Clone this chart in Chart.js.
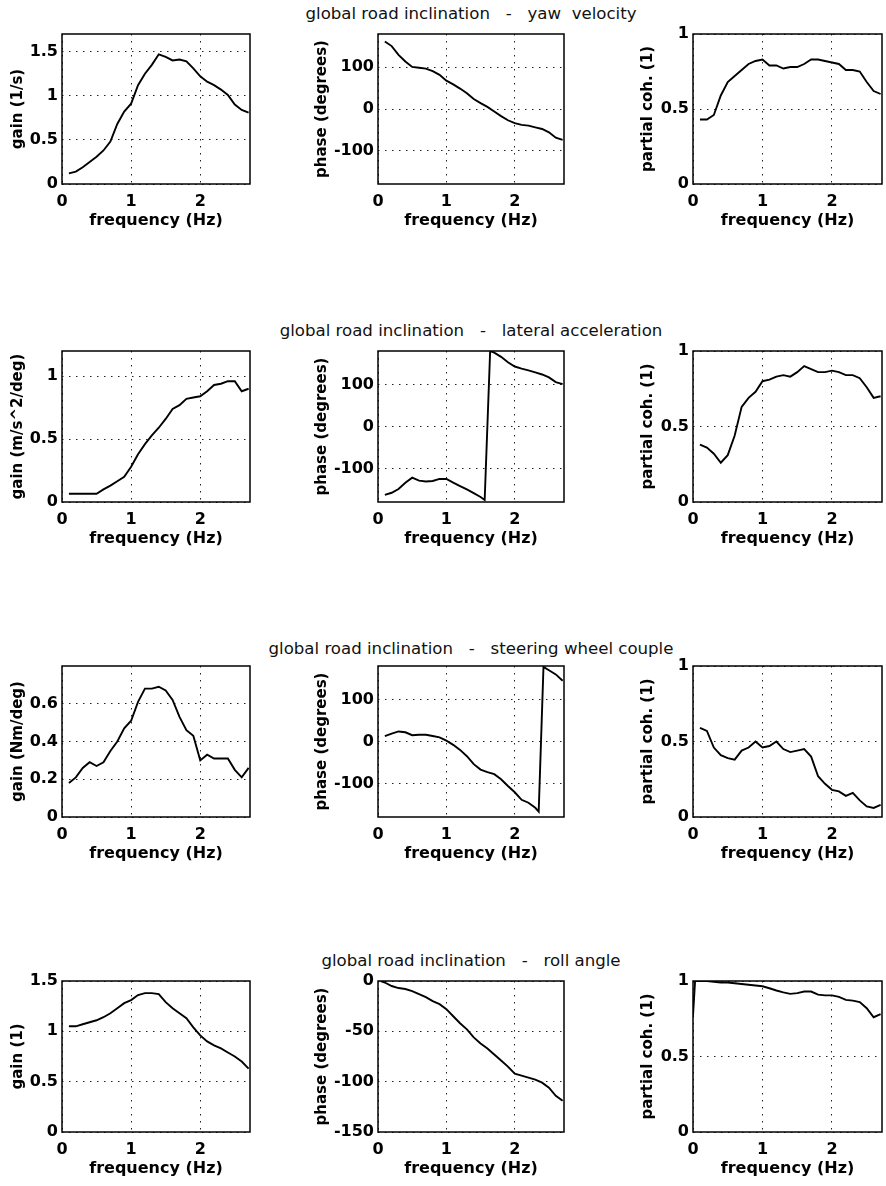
<!DOCTYPE html>
<html>
<head>
<meta charset="utf-8">
<script src="https://cdn.jsdelivr.net/npm/chart.js@4"></script>
<style>
  html, body { margin: 0; padding: 0; background: #fff; }
  body { position: relative; width: 886px; height: 1186px; overflow: hidden; font-family: 'DejaVu Sans', sans-serif; }
  .row-title { position: absolute; left: 171px; width: 600px; text-align: center; font-size: 16.6px; line-height: 20px; white-space: pre; color: #111; }
  canvas { position: absolute; }
</style>
</head>
<body>
<script>
// frequency axis shared by most curves (Hz)
const freq = [0.1, 0.2, 0.3, 0.4, 0.5, 0.6, 0.7, 0.8, 0.9, 1.0, 1.1, 1.2, 1.3, 1.4, 1.5, 1.6, 1.7, 1.8, 1.9, 2.0, 2.1, 2.2, 2.3, 2.4, 2.5, 2.6, 2.7];
const freqTicks = [0, 1, 2];
const freqMax = 2.72;

// yaw velocity
const yawGain = [0.12, 0.14, 0.19, 0.25, 0.31, 0.38, 0.48, 0.68, 0.82, 0.91, 1.12, 1.25, 1.35, 1.47, 1.44, 1.40, 1.41, 1.39, 1.31, 1.22, 1.16, 1.12, 1.07, 1.01, 0.90, 0.84, 0.81];
const yawPhase = [162, 151, 130, 114, 101, 99, 97, 91, 82, 68, 59, 49, 38, 24, 14, 5, -6, -17, -27, -34, -38, -40, -44, -48, -56, -69, -74];
const yawCoh = [0.43, 0.43, 0.46, 0.59, 0.68, 0.72, 0.76, 0.80, 0.82, 0.83, 0.79, 0.79, 0.77, 0.78, 0.78, 0.80, 0.83, 0.83, 0.82, 0.81, 0.80, 0.76, 0.76, 0.75, 0.68, 0.62, 0.60];

// lateral acceleration
const latGain = [0.066, 0.066, 0.066, 0.066, 0.066, 0.10, 0.13, 0.165, 0.20, 0.28, 0.38, 0.46, 0.53, 0.59, 0.66, 0.74, 0.77, 0.82, 0.83, 0.84, 0.88, 0.93, 0.94, 0.96, 0.96, 0.88, 0.90];
const latPhaseFreq = [0.1, 0.2, 0.3, 0.4, 0.5, 0.6, 0.7, 0.8, 0.9, 1.0, 1.1, 1.2, 1.3, 1.4, 1.5, 1.56, 1.64, 1.7, 1.8, 1.9, 2.0, 2.1, 2.2, 2.3, 2.4, 2.5, 2.6, 2.7];
const latPhase = [-163, -158, -149, -134, -122, -129, -131, -130, -125, -125, -134, -142, -150, -159, -168, -175, 180, 176, 166, 153, 143, 138, 134, 129, 124, 117, 106, 101];
const latCoh = [0.38, 0.36, 0.32, 0.26, 0.31, 0.44, 0.63, 0.69, 0.73, 0.80, 0.81, 0.83, 0.84, 0.83, 0.86, 0.90, 0.88, 0.86, 0.86, 0.87, 0.86, 0.84, 0.84, 0.82, 0.76, 0.69, 0.70];

// steering wheel couple
const steerGain = [0.18, 0.21, 0.26, 0.29, 0.27, 0.29, 0.35, 0.40, 0.47, 0.51, 0.61, 0.68, 0.68, 0.69, 0.67, 0.62, 0.53, 0.46, 0.43, 0.30, 0.33, 0.31, 0.31, 0.31, 0.25, 0.21, 0.26];
const steerPhaseFreq = [0.1, 0.2, 0.3, 0.4, 0.5, 0.6, 0.7, 0.8, 0.9, 1.0, 1.1, 1.2, 1.3, 1.4, 1.5, 1.6, 1.7, 1.8, 1.9, 2.0, 2.1, 2.2, 2.3, 2.35, 2.42, 2.5, 2.6, 2.7];
const steerPhase = [13, 19, 24, 22, 15, 16, 16, 13, 10, 2, -8, -20, -35, -54, -67, -73, -78, -90, -106, -121, -139, -146, -158, -167, 178, 170, 160, 145];
const steerCoh = [0.59, 0.57, 0.46, 0.41, 0.39, 0.38, 0.44, 0.46, 0.50, 0.46, 0.47, 0.50, 0.45, 0.43, 0.44, 0.45, 0.40, 0.27, 0.22, 0.18, 0.17, 0.14, 0.16, 0.11, 0.07, 0.06, 0.08];

// roll angle
const rollGain = [1.05, 1.05, 1.07, 1.09, 1.11, 1.14, 1.18, 1.23, 1.28, 1.31, 1.36, 1.38, 1.38, 1.37, 1.29, 1.23, 1.18, 1.13, 1.04, 0.96, 0.90, 0.86, 0.83, 0.79, 0.75, 0.70, 0.63];
const rollPhaseFreq = [0.04, 0.1, 0.2, 0.3, 0.4, 0.5, 0.6, 0.7, 0.8, 0.9, 1.0, 1.1, 1.2, 1.3, 1.4, 1.5, 1.6, 1.7, 1.8, 1.9, 2.0, 2.1, 2.2, 2.3, 2.4, 2.5, 2.6, 2.7];
const rollPhase = [0, -1.5, -5, -7, -8, -10, -13, -16, -20, -23, -28, -35, -42, -48, -56, -62, -67, -73, -79, -85, -92, -94, -96, -98, -101, -106, -114, -119];
const rollCohFreq = [0, 0.03, 0.1, 0.2, 0.3, 0.4, 0.5, 0.6, 0.7, 0.8, 0.9, 1.0, 1.1, 1.2, 1.3, 1.4, 1.5, 1.6, 1.7, 1.8, 1.9, 2.0, 2.1, 2.2, 2.3, 2.4, 2.5, 2.6, 2.7];
const rollCoh = [0.77, 1.0, 1.0, 1.0, 0.995, 0.99, 0.99, 0.985, 0.98, 0.975, 0.97, 0.965, 0.952, 0.937, 0.925, 0.915, 0.92, 0.93, 0.93, 0.91, 0.905, 0.905, 0.895, 0.875, 0.87, 0.86, 0.82, 0.76, 0.78];

// y tick labels
const phaseTicks = [-100, 0, 100];
const cohTicks = [0, 0.5, 1];

const rowTitles = [
  'global road inclination   -   yaw  velocity',
  'global road inclination   -   lateral acceleration',
  'global road inclination   -   steering wheel couple',
  'global road inclination   -   roll angle'
];

// page layout (pixel boxes of the plot areas)
const rows = [
  { top: 34, bottom: 184, titleTop: 4 },
  { top: 351, bottom: 502, titleTop: 321 },
  { top: 666, bottom: 817, titleTop: 639 },
  { top: 981, bottom: 1132, titleTop: 951 }
];
const cols = [
  { left: 62, right: 250, canvasLeft: 0, titleX: 18 },
  { left: 378, right: 564, canvasLeft: 300, titleX: 322 },
  { left: 693, right: 882, canvasLeft: 625, titleX: 648 }
];

Chart.defaults.font.family = "'DejaVu Sans', sans-serif";
Chart.defaults.font.size = 16;
Chart.defaults.font.weight = 'bold';
Chart.defaults.color = '#000';

const framePlugin = {
  id: 'frame',
  afterDraw(chart) {
    const { ctx, chartArea: a } = chart;
    ctx.save();
    ctx.strokeStyle = '#000';
    ctx.lineWidth = 1.5;
    ctx.strokeRect(a.left, a.top, a.right - a.left, a.bottom - a.top);
    ctx.restore();
  }
};

rowTitles.forEach((t, i) => {
  const d = document.createElement('div');
  d.className = 'row-title';
  d.style.top = rows[i].titleTop + 'px';
  d.textContent = t;
  document.body.appendChild(d);
});

function panel(r, c, xs, ys, yMin, yMax, yTicks, yTitle) {
  const row = rows[r], col = cols[c];
  const padTop = 14, padRight = 4, axisH = 50;
  const w = col.right + padRight - col.canvasLeft;
  const h = padTop + (row.bottom - row.top) + axisH;
  const cv = document.createElement('canvas');
  cv.width = w; cv.height = h;
  cv.style.left = col.canvasLeft + 'px';
  cv.style.top = (row.top - padTop) + 'px';
  cv.style.width = w + 'px';
  cv.style.height = h + 'px';
  document.body.appendChild(cv);

  const gridOpts = { color: '#222', lineWidth: 1, drawTicks: false };
  const borderOpts = { display: false, dash: [1.5, 5.5] };

  new Chart(cv, {
    type: 'line',
    data: {
      datasets: [{
        data: xs.map((x, i) => ({ x: x, y: ys[i] })),
        borderColor: '#000',
        borderWidth: 1.9,
        pointRadius: 0,
        tension: 0
      }]
    },
    options: {
      responsive: false,
      animation: false,
      devicePixelRatio: 1,
      layout: { padding: { top: padTop, right: padRight, left: 0, bottom: 0 } },
      plugins: { legend: { display: false }, tooltip: { enabled: false } },
      scales: {
        x: {
          type: 'linear', min: 0, max: freqMax,
          afterBuildTicks: s => { s.ticks = freqTicks.map(v => ({ value: v })); },
          afterFit: s => { s.height = axisH; },
          grid: gridOpts, border: borderOpts,
          ticks: { padding: 8.4, maxRotation: 0, callback: v => String(v) },
          title: { display: true, text: 'frequency (Hz)', padding: { top: 0, bottom: 3.4 } }
        },
        y: {
          type: 'linear', min: yMin, max: yMax,
          afterBuildTicks: s => { s.ticks = yTicks.map(v => ({ value: v })); },
          afterFit: s => { s.width = col.left - col.canvasLeft; },
          grid: gridOpts, border: borderOpts,
          ticks: { padding: 4, callback: v => String(v) },
          title: { display: true, text: yTitle, font: { size: 15 }, padding: { top: col.titleX - col.canvasLeft - 9, bottom: 0 } }
        }
      }
    },
    plugins: [framePlugin]
  });
}

panel(0, 0, freq, yawGain, 0, 1.7, [0, 0.5, 1, 1.5], 'gain (1/s)');
panel(0, 1, freq, yawPhase, -180, 180, phaseTicks, 'phase (degrees)');
panel(0, 2, freq, yawCoh, 0, 1, cohTicks, 'partial coh. (1)');

panel(1, 0, freq, latGain, 0, 1.2, [0, 0.5, 1], 'gain (m/s^2/deg)');
panel(1, 1, latPhaseFreq, latPhase, -180, 180, phaseTicks, 'phase (degrees)');
panel(1, 2, freq, latCoh, 0, 1, cohTicks, 'partial coh. (1)');

panel(2, 0, freq, steerGain, 0, 0.8, [0, 0.2, 0.4, 0.6], 'gain (Nm/deg)');
panel(2, 1, steerPhaseFreq, steerPhase, -180, 180, phaseTicks, 'phase (degrees)');
panel(2, 2, freq, steerCoh, 0, 1, cohTicks, 'partial coh. (1)');

panel(3, 0, freq, rollGain, 0, 1.5, [0, 0.5, 1, 1.5], 'gain (1)');
panel(3, 1, rollPhaseFreq, rollPhase, -150, 0, [-150, -100, -50, 0], 'phase (degrees)');
panel(3, 2, rollCohFreq, rollCoh, 0, 1, cohTicks, 'partial coh. (1)');
</script>
</body>
</html>
